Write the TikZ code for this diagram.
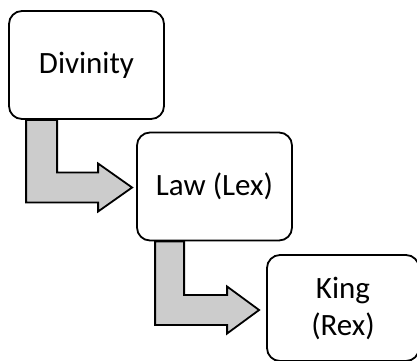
\documentclass[tikz,border=0pt]{standalone}
\usepackage{fontspec}
\setmainfont{Carlito}
\usetikzlibrary{calc}
\pgfdeclarelayer{bg}
\pgfsetlayers{bg,main}
\begin{document}
\begin{tikzpicture}[x=1pt,y=-1pt,
  box/.style={draw=black,line width=1.8pt,fill=white,rounded corners=13pt,
    minimum width=155pt,minimum height=108pt,align=center,inner sep=0pt,
    font=\fontsize{31}{37}\selectfont},
  bentarrow/.style={draw=black,line width=1.8pt,fill=black!20,line join=miter}]
\useasboundingbox (0,0) rectangle (417,360);
\node[box] (d) at (86.5,65) {Divinity};
\node[box] (l) at (214.5,186.5) {Law (Lex)};
\node[box,minimum width=152pt,minimum height=106pt] (k) at (343,308) {King\\(Rex)};
\coordinate (a1) at ($(d.south west)+(18,0)$);
\coordinate (t1) at ($(l.west)+(-4,1)$);
\coordinate (a2) at ($(l.south west)+(19,0)$);
\coordinate (t2) at ($(k.west)+(-7,2)$);
\begin{pgfonlayer}{bg}
\draw[bentarrow] let \p1=(a1), \p2=(t1) in
  (\p1) -- (\x1+31pt,\y1) -- (\x1+31pt,\y2+15pt) -- (\x2-34pt,\y2+15pt)
  -- (\x2-34pt,\y2+24pt) -- (\p2) -- (\x2-34pt,\y2-24pt) -- (\x2-34pt,\y2-15pt)
  -- (\x1,\y2-15pt) -- cycle;
\draw[bentarrow] let \p1=(a2), \p2=(t2) in
  (\p1) -- (\x1+29pt,\y1) -- (\x1+29pt,\y2+15pt) -- (\x2-32pt,\y2+15pt)
  -- (\x2-32pt,\y2+23.5pt) -- (\p2) -- (\x2-32pt,\y2-23.5pt) -- (\x2-32pt,\y2-15pt)
  -- (\x1,\y2-15pt) -- cycle;
\end{pgfonlayer}
\end{tikzpicture}
\end{document}
